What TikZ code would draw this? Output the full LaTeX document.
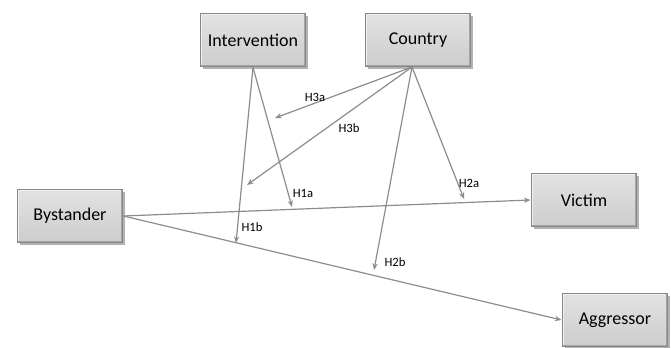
\documentclass[tikz,border=0pt]{standalone}
\usepackage{fontspec}
\setmainfont{Carlito}
\usetikzlibrary{arrows.meta,shadows}

\definecolor{boxedge}{RGB}{135,135,135}
\definecolor{boxtop}{RGB}{226,226,226}
\definecolor{boxbottom}{RGB}{205,205,205}
\definecolor{bevellight}{RGB}{240,240,240}
\definecolor{beveldark}{RGB}{165,165,165}
\definecolor{linkgray}{RGB}{140,140,140}

\tikzset{
	factor/.style={draw=boxedge, line width=1.2pt, top color=boxtop, bottom color=boxbottom,
		minimum width=79pt, minimum height=40pt, inner sep=0.75pt,
		drop shadow={shadow xshift=1.8pt, shadow yshift=-1.8pt, fill=black!60},
		path picture={
			\draw [bevellight, line width=2.5pt] (path picture bounding box.south west) -- (path picture bounding box.north west) -- (path picture bounding box.north east);
			\draw [beveldark, line width=2.5pt] (path picture bounding box.north east) -- (path picture bounding box.south east) -- (path picture bounding box.south west);
		},
		font=\fontsize{13.5}{16}\selectfont},
	link/.style={draw=linkgray, line width=0.9pt, -{Stealth[length=5pt,width=4pt]}},
	hyp/.style={inner sep=0.75pt, font=\fontsize{9.5}{11}\selectfont}
}

\begin{document}
\begin{tikzpicture}[x=0.75pt,y=0.75pt,yscale=-1,xscale=1]
	\path[use as bounding box] (0,0) rectangle (671,348);

	% Boxes
	\node [factor] (intervention) at (253,40) {Intervention};
	\node [factor] (country) at (418,40) {Country};
	\node [factor] (bystander) at (70,216) {Bystander};
	\node [factor] (victim) at (584,200) {Victim};
	\node [factor] (aggressor) at (615,320) {Aggressor};

	% Arrow ends on the links
	\coordinate (h1a) at (292,207);
	\coordinate (h1b) at (236,243);
	\coordinate (h2a) at (464,199);
	\coordinate (h2b) at (374,270);
	\coordinate (h3a) at (275,118);
	\coordinate (h3b) at (247,185);
	\coordinate (cfoot) at (412,67);

	%Straight Lines
	\draw [link] (bystander.east) -- (victim.west);
	\draw [link] (bystander.east) -- (aggressor.west);
	\draw [link] (intervention.south) -- (h1a);
	\draw [link] (intervention.south) -- (h1b);
	\draw [link] (cfoot) -- (h2a);
	\draw [link] (cfoot) -- (h2b);
	\draw [link] (cfoot) -- (h3a);
	\draw [link] (cfoot) -- (h3b);

	% Text Node
	\node [hyp] (lh1a) at (303,193) {H1a};
	% Text Node
	\node [hyp] (lh1b) at (252,227) {H1b};
	% Text Node
	\node [hyp] (lh2a) at (469,183) {H2a};
	% Text Node
	\node [hyp] (lh2b) at (395,262) {H2b};
	% Text Node
	\node [hyp] (lh3a) at (315,97) {H3a};
	% Text Node
	\node [hyp] (lh3b) at (349,128) {H3b};

\end{tikzpicture}
\end{document}
